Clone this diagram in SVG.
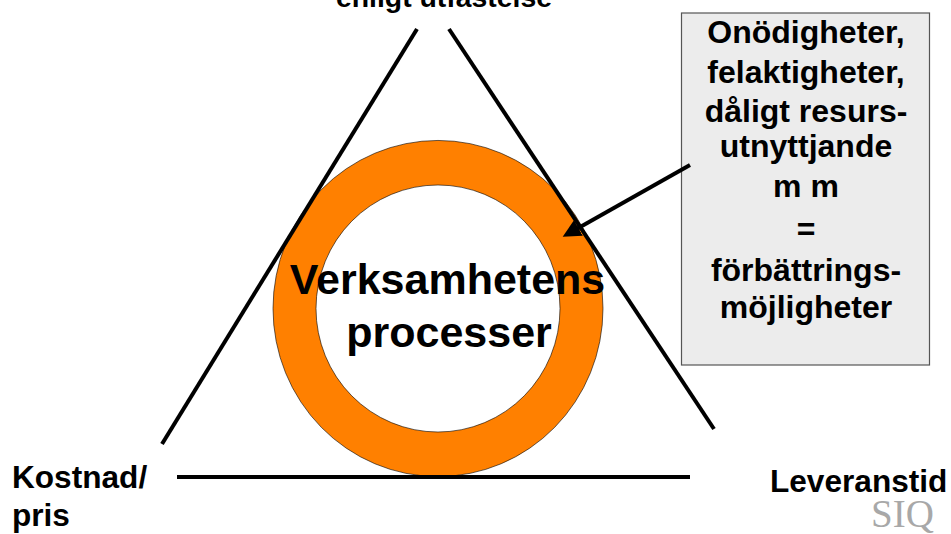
<svg xmlns="http://www.w3.org/2000/svg" width="951" height="534" viewBox="0 0 951 534">
<style>
text{font-family:"Liberation Sans",Arial,sans-serif;font-weight:bold;fill:#000;text-anchor:middle}
.b{font-size:32px}.c{font-size:43px}.l{font-size:31.600px;text-anchor:start}
.e{stroke:#000;stroke-width:4;fill:none}
</style>
<defs><marker id="a" markerUnits="userSpaceOnUse" markerWidth="20" markerHeight="18" refX="1" refY="9" orient="auto"><path d="M0 0L18 9L0 18Z" fill="#000"/></marker></defs>
<rect width="951" height="534" fill="#fff"/>
<g id="ring"><path fill="#ff8000" fill-rule="evenodd" stroke="#000" stroke-width="0.6" d="M273 308.500a165 168 0 1 0 330 0a165 168 0 1 0-330 0ZM316 308.500a122 123.500 0 1 0 244 0a122 123.500 0 1 0-244 0Z"/></g>
<g id="box"><rect x="681.500" y="13" width="248" height="352" fill="#ececec" stroke="#555" stroke-width="1.200"/>
<text class="b" x="806" y="43">Onödigheter,</text><text class="b" x="806" y="83">felaktigheter,</text><text class="b" x="806" y="122">dåligt resurs-</text><text class="b" x="806" y="157">utnyttjande</text><text class="b" x="806" y="197">m m</text><text class="b" x="806" y="240">=</text><text class="b" x="806" y="281">förbättrings-</text><text class="b" x="806" y="318">möjligheter</text></g>
<g id="connectors"><path class="e" d="M417 29L162 444"/><path class="e" d="M449 29L714 429"/><path class="e" d="M177 477H690"/><path d="M690 165L577.500 228.500" class="e" marker-end="url(#a)"/></g>
<g id="center"><text class="c" x="447.500" y="294">Verksamhetens</text><text class="c" x="449" y="347">processer</text></g>
<g id="top"><text x="444" y="7" style="font-size:28.400px">enligt utfästelse</text></g>
<g id="kostnad"><text class="l" x="12" y="488">Kostnad/</text><text class="l" x="12" y="526">pris</text></g>
<g id="leveranstid"><text class="l" x="770" y="492">Leveranstid</text></g>
<g id="siq"><text x="902.500" y="527" style="font-family:'Liberation Serif',serif;font-weight:normal;font-size:39px;fill:#a8a8a8">SIQ</text></g>
</svg>
